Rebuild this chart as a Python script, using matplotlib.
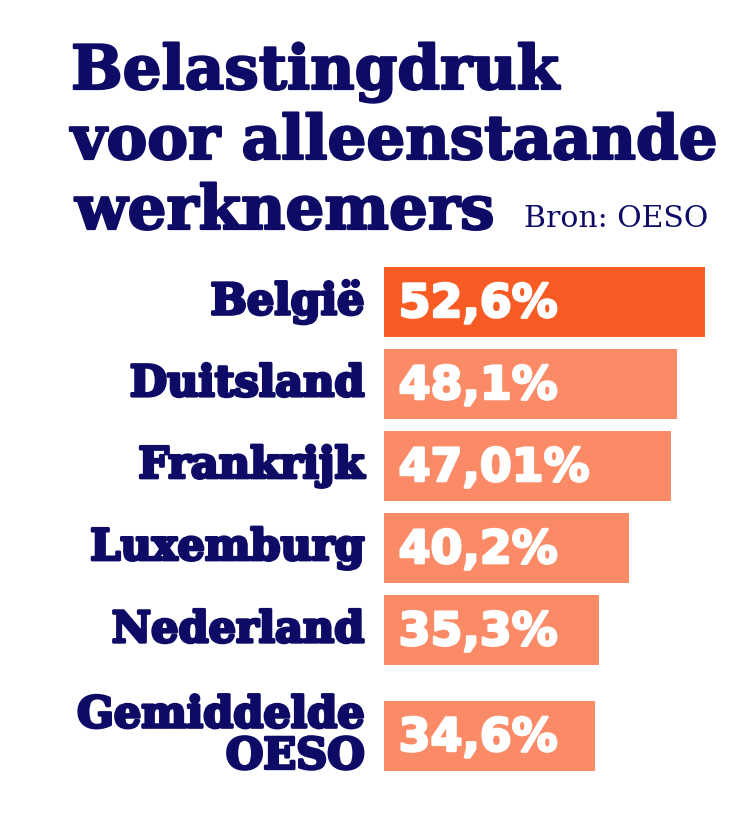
import matplotlib.pyplot as plt
import matplotlib.patheffects as pe

# data
landen = ['België', 'Duitsland', 'Frankrijk', 'Luxemburg', 'Nederland', 'Gemiddelde\nOESO']
druk = [52.6, 48.1, 47.01, 40.2, 35.3, 34.6]
labels = ['52,6%', '48,1%', '47,01%', '40,2%', '35,3%', '34,6%']

navy = '#0d0b66'
oranje = '#f85b24'
licht = '#fb8a66'

W, H = 750, 832
fig = plt.figure(figsize=(W / 100, H / 100), dpi=100)

# titel, extra vet gemaakt met een omlijning in dezelfde kleur
dik = [pe.withStroke(linewidth=1.6, foreground=navy)]
titel_font = dict(family='DejaVu Serif', weight='heavy', color=navy, fontsize=44,
                  path_effects=dik)
fig.text(71 / W, 1 - 89 / H, 'Belastingdruk', **titel_font)
fig.text(71 / W, 1 - 159 / H, 'voor alleenstaande', **titel_font)
fig.text(75 / W, 1 - 229 / H, 'werknemers', **titel_font)
fig.text(524 / W, 1 - 227 / H, 'Bron: OESO', family='DejaVu Serif',
         color=navy, fontsize=21.5)

# rijposities (laatste rij iets lager door twee regels)
ypos = [0, 1, 2, 3, 4, 5.29]
hoogte = 0.854

top, bottom = 267, 771
ax = fig.add_axes([384 / W, 1 - bottom / H, 1 - 384 / W, (bottom - top) / H])
kleuren = [oranje] + [licht] * (len(druk) - 1)
ax.barh(ypos, druk, height=hoogte, color=kleuren)
ax.set_xlim(0, 60)
ax.set_ylim(5.29 + 0.427, -0.427)
ax.axis('off')

for y, land, lab in zip(ypos, landen, labels):
    ax.text(-3.2, y, land, ha='right', va='center', family='DejaVu Serif',
            weight='heavy', color=navy, fontsize=31, linespacing=0.98,
            clip_on=False, path_effects=[pe.withStroke(linewidth=2.2, foreground=navy)])
    ax.text(2.4, y + 0.03, lab, ha='left', va='center', family='DejaVu Sans',
            weight='heavy', color='white', fontsize=33,
            path_effects=[pe.withStroke(linewidth=1.8, foreground='white')])

fig.savefig('out.png', dpi=100)
